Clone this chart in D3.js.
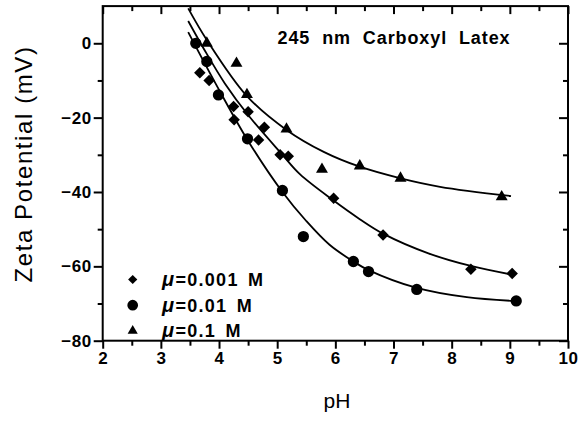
<!DOCTYPE html>
<html>
<head>
<meta charset="utf-8">
<script src="https://cdn.jsdelivr.net/npm/d3@7"></script>
<style>
  body { margin: 0; background: #fff; }
  svg { display: block; font-family: "Liberation Sans", Arial, sans-serif; }
</style>
</head>
<body>
<div id="chart"></div>
<script>
// measured points, [pH, zeta mV]
const mu001 = [[3.67,-7.9],[3.83,-10],[4.25,-17],[4.50,-18.4],[4.26,-20.6],[4.78,-22.6],[4.68,-26],
  [5.05,-30],[5.19,-30.4],[5.97,-41.7],[6.82,-51.6],[8.33,-60.8],[9.04,-61.9]];
const mu01 = [[3.60,0],[3.79,-4.9],[3.99,-13.9],[4.49,-25.7],[5.09,-39.6],[5.45,-52],
  [6.31,-58.7],[6.57,-61.4],[7.40,-66.2],[9.11,-69.3]];
const mu1 = [[3.79,0],[4.30,-5.4],[4.48,-13.8],[5.16,-23.1],[5.77,-33.9],[6.42,-33],[7.12,-36.3],[8.86,-41.3]];

// fitted curves
const fit001 = [[3.47,6],[3.75,-1.8],[4.1,-10.8],[4.5,-19.3],[5.08,-29.8],[5.39,-35.2],[5.97,-42.3],
  [6.42,-47.3],[6.82,-51.2],[7.6,-56.5],[8.33,-59.9],[9.06,-62.3]];
const fit01 = [[3.47,3],[3.93,-10.5],[4.49,-26],[5.09,-40],[5.5,-47.8],[5.9,-54.2],[6.31,-58.7],
  [6.57,-61],[7.4,-65.8],[8.26,-68.3],[9.06,-69.3]];
const fit1 = [[3.47,9.4],[3.79,0.9],[4.48,-14.2],[5.16,-23.3],[5.8,-29.2],[6.42,-33.2],[7.14,-36.4],
  [7.8,-38.6],[9.02,-41.1]];

const xTicks = [2,3,4,5,6,7,8,9,10];
const xMinor = [2.5,3.5,4.5,5.5,6.5,7.5,8.5,9.5];
const yTicks = [0,-20,-40,-60,-80];
const yMinor = [-10,-30,-50,-70];
const legendLabels = ["=0.001  M", "=0.01  M", "=0.1  M"];

const W = 581, H = 421;
const svg = d3.select("#chart").append("svg").attr("width", W).attr("height", H);

const x = d3.scaleLinear().domain([2,10]).range([102.7,568]);
const y = d3.scaleLinear().domain([-80,10]).range([340.7,6.1]);
const fmt = d => d < 0 ? "\u2212" + Math.abs(d) : d;

function styleAxis(g) {
  g.select(".domain").remove();
  g.selectAll("line").attr("stroke","#000").attr("stroke-width",2);
  g.selectAll("text").attr("font-size",17).attr("font-weight","bold").attr("fill","#000")
    .attr("letter-spacing",0.5);
}

// frame
svg.append("rect").attr("x",x(2)).attr("y",y(10)).attr("width",x(10)-x(2)).attr("height",y(-80)-y(10))
  .attr("fill","none").attr("stroke","#000").attr("stroke-width",2);

// bottom
svg.append("g").attr("transform",`translate(0,${y(-80)})`)
  .call(d3.axisBottom(x).tickValues(xTicks).tickSize(8).tickPadding(3).tickFormat(d3.format("d"))).call(styleAxis);
svg.append("g").attr("transform",`translate(0,${y(-80)})`)
  .call(d3.axisBottom(x).tickValues(xMinor).tickSize(5).tickFormat("")).call(styleAxis);
// top (inward)
svg.append("g").attr("transform",`translate(0,${y(10)})`)
  .call(d3.axisTop(x).tickValues(xTicks).tickSize(-8).tickFormat("")).call(styleAxis);
svg.append("g").attr("transform",`translate(0,${y(10)})`)
  .call(d3.axisTop(x).tickValues(xMinor).tickSize(-5).tickFormat("")).call(styleAxis);
// left
svg.append("g").attr("transform",`translate(${x(2)},0)`)
  .call(d3.axisLeft(y).tickValues(yTicks).tickSize(9).tickPadding(2).tickFormat(fmt)).call(styleAxis);
svg.append("g").attr("transform",`translate(${x(2)},0)`)
  .call(d3.axisLeft(y).tickValues(yMinor).tickSize(5).tickFormat("")).call(styleAxis);
// right (inward)
svg.append("g").attr("transform",`translate(${x(10)},0)`)
  .call(d3.axisRight(y).tickValues(yTicks).tickSize(-9).tickFormat("")).call(styleAxis);
svg.append("g").attr("transform",`translate(${x(10)},0)`)
  .call(d3.axisRight(y).tickValues(yMinor).tickSize(-5).tickFormat("")).call(styleAxis);

// fitted curves
const line = d3.line().x(d => x(d[0])).y(d => y(d[1])).curve(d3.curveCatmullRom.alpha(0.5));
[fit001, fit01, fit1].forEach(f => {
  svg.append("path").datum(f).attr("d", line).attr("fill","none").attr("stroke","#000").attr("stroke-width",1.8);
});

// markers
const diamond = d3.symbol().type(d3.symbolSquare).size(66)();
const circle = d3.symbol().type(d3.symbolCircle).size(100)();
const tri = d3.symbol().type(d3.symbolTriangle).size(62)();

svg.append("g").selectAll("path").data(mu001).join("path")
  .attr("d", diamond).attr("transform", d => `translate(${x(d[0])},${y(d[1])}) rotate(45)`);
svg.append("g").selectAll("path").data(mu01).join("path")
  .attr("d", circle).attr("transform", d => `translate(${x(d[0])},${y(d[1])})`);
svg.append("g").selectAll("path").data(mu1).join("path")
  .attr("d", tri).attr("transform", d => `translate(${x(d[0])},${y(d[1])})`);

// legend
const legendSyms = [[diamond,45,0.8],[circle,0,0.95],[tri,0,0.85]];
const lg = svg.append("g");
legendLabels.forEach((lab, i) => {
  const ly = 279.5 + i * 25.7;
  lg.append("path").attr("d", legendSyms[i][0])
    .attr("transform", `translate(132.7,${ly}) rotate(${legendSyms[i][1]}) scale(${legendSyms[i][2]})`);
  const t = lg.append("text").attr("x", 162).attr("y", ly + 6.5).attr("font-size", 18)
    .attr("font-weight","bold").attr("letter-spacing",1.3).attr("word-spacing",3);
  t.append("tspan").attr("font-style","italic").attr("font-size",20).text("\u03bc");
  t.append("tspan").text(lab);
});

// title
svg.append("text").attr("x", 394).attr("y", 44).attr("text-anchor","middle")
  .attr("font-size", 18).attr("font-weight","bold").attr("word-spacing", 6).attr("letter-spacing",0.9)
  .text("245 nm Carboxyl Latex");

// axis titles
svg.append("text").attr("x", 337).attr("y", 408).attr("text-anchor","middle")
  .attr("font-size", 21).text("pH");
svg.append("text").attr("transform","translate(32,164) rotate(-90)").attr("text-anchor","middle")
  .attr("font-size", 24).attr("letter-spacing", 1.6).text("Zeta Potential (mV)");
</script>
</body>
</html>
